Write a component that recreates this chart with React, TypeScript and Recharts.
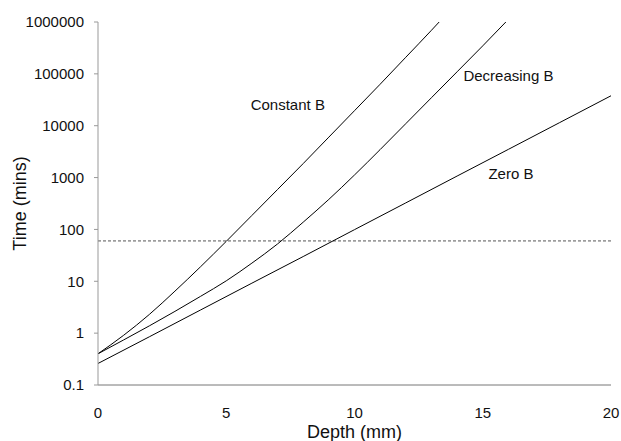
import React from 'react';
import {
  LineChart,
  Line,
  XAxis,
  YAxis,
  ReferenceLine,
  ReferenceDot,
} from 'recharts';

// Depth (mm) vs time (mins)
const constantB = [
  { depth: 0, time: 0.4 },
  { depth: 1, time: 0.91 },
  { depth: 2, time: 2.29 },
  { depth: 3, time: 6.46 },
  { depth: 4, time: 19.1 },
  { depth: 5, time: 58.9 },
  { depth: 6, time: 186 },
  { depth: 7, time: 589 },
  { depth: 8, time: 1862 },
  { depth: 9, time: 6026 },
  { depth: 10, time: 19500 },
  { depth: 11, time: 63100 },
  { depth: 12, time: 209000 },
  { depth: 13, time: 692000 },
  { depth: 13.3, time: 1000000 },
];

const decreasingB = [
  { depth: 0, time: 0.4 },
  { depth: 1, time: 0.74 },
  { depth: 2, time: 1.38 },
  { depth: 3, time: 2.63 },
  { depth: 4, time: 5.13 },
  { depth: 5, time: 10.2 },
  { depth: 6, time: 22.4 },
  { depth: 7, time: 52.5 },
  { depth: 8, time: 138 },
  { depth: 9, time: 380 },
  { depth: 10, time: 1122 },
  { depth: 11, time: 3467 },
  { depth: 12, time: 10960 },
  { depth: 13, time: 34670 },
  { depth: 14, time: 109600 },
  { depth: 15, time: 346700 },
  { depth: 15.9, time: 1000000 },
];

const zeroB = [
  { depth: 0, time: 0.26 },
  { depth: 2, time: 0.85 },
  { depth: 4, time: 2.8 },
  { depth: 6, time: 9.2 },
  { depth: 8, time: 30 },
  { depth: 10, time: 99 },
  { depth: 12, time: 325 },
  { depth: 14, time: 1070 },
  { depth: 16, time: 3500 },
  { depth: 18, time: 11500 },
  { depth: 20, time: 37800 },
];

const thresholdTime = 60;

const xTicks = [0, 5, 10, 15, 20];
const yTicks = [0.1, 1, 10, 100, 1000, 10000, 100000, 1000000];

const seriesLabels = [
  { name: 'Constant B', depth: 7.4, time: 25700 },
  { name: 'Decreasing B', depth: 16.0, time: 93000 },
  { name: 'Zero B', depth: 16.1, time: 1200 },
];

const FONT = '"Liberation Sans", Arial, Helvetica, sans-serif';

export default function App() {
  return (
    <div style={{ position: 'absolute', left: 0, top: 0 }}>
      <LineChart
        width={621}
        height={441}
        margin={{ top: 22, right: 10, bottom: 0, left: 0 }}
        style={{ fontFamily: FONT }}
      >
        <XAxis
          dataKey="depth"
          type="number"
          domain={[0, 20]}
          ticks={xTicks}
          allowDataOverflow
          height={56}
          stroke="#777"
          tickLine={false}
          tickMargin={16}
          tick={{ fill: '#111', fontSize: 15, fontFamily: FONT }}
          label={{
            value: 'Depth (mm)',
            position: 'insideBottom',
            offset: 3,
            fill: '#111',
            fontSize: 18,
            fontFamily: FONT,
          }}
        />
        <YAxis
          dataKey="time"
          type="number"
          scale="log"
          domain={[0.1, 1000000]}
          ticks={yTicks}
          allowDataOverflow
          width={98}
          stroke="#999"
          tickSize={4}
          tickMargin={10}
          tickFormatter={(v: number) => String(v)}
          tick={{ fill: '#111', fontSize: 15, fontFamily: FONT }}
          label={{
            value: 'Time (mins)',
            angle: -90,
            position: 'insideLeft',
            offset: 20,
            fill: '#111',
            fontSize: 18,
            fontFamily: FONT,
            style: { textAnchor: 'middle' },
          }}
        />
        <ReferenceLine
          y={thresholdTime}
          stroke="#555"
          strokeDasharray="3 2"
          strokeWidth={1}
        />
        <Line
          data={constantB}
          dataKey="time"
          type="monotone"
          stroke="#000"
          strokeWidth={1}
          dot={false}
          isAnimationActive={false}
        />
        <Line
          data={decreasingB}
          dataKey="time"
          type="monotone"
          stroke="#000"
          strokeWidth={1}
          dot={false}
          isAnimationActive={false}
        />
        <Line
          data={zeroB}
          dataKey="time"
          type="linear"
          stroke="#000"
          strokeWidth={1}
          dot={false}
          isAnimationActive={false}
        />
        {seriesLabels.map((s) => (
          <ReferenceDot
            key={s.name}
            x={s.depth}
            y={s.time}
            r={1}
            fill="none"
            stroke="none"
            label={{
              value: s.name,
              position: 'center',
              fill: '#111',
              fontSize: 15,
              fontFamily: FONT,
            }}
          />
        ))}
      </LineChart>
    </div>
  );
}
